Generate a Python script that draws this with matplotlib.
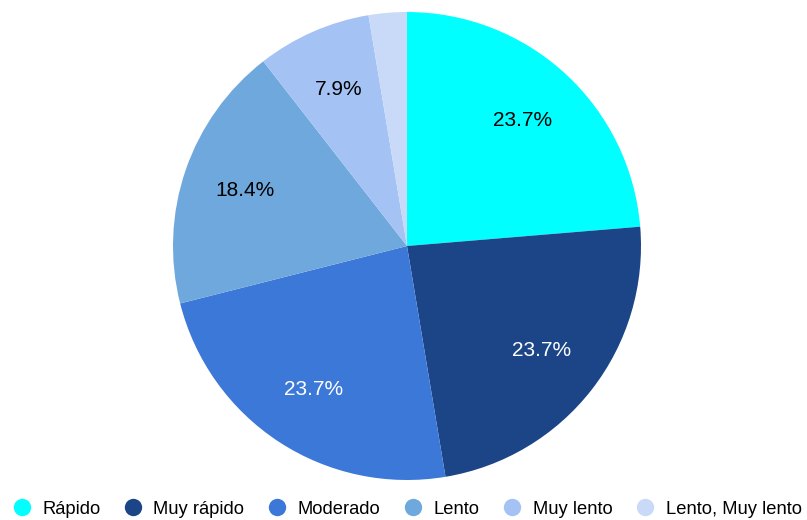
import matplotlib
matplotlib.use("Agg")
import matplotlib.pyplot as plt
from matplotlib.lines import Line2D

categories = ["Rápido", "Muy rápido", "Moderado", "Lento", "Muy lento", "Lento, Muy lento"]
values = [9, 9, 9, 7, 3, 1]
colors = ["#00ffff", "#1c4587", "#3c78d8", "#6fa8dc", "#a4c2f4", "#c9daf8"]
text_colors = ["black", "white", "white", "black", "black", "black"]

plt.rcParams['font.family'] = ['Liberation Sans', 'DejaVu Sans']

W, H = 807, 520
fig = plt.figure(figsize=(W / 100, H / 100), dpi=100)
cx, cy, r = 407, 246, 234
ax = fig.add_axes([(cx - r) / W, (H - cy - r) / H, 2 * r / W, 2 * r / H])

def fmt(p):
    return f"{p:.1f}%" if p >= 5 else ""

wedges, texts, autotexts = ax.pie(values, colors=colors, startangle=90, counterclock=False,
                                   autopct=fmt, pctdistance=0.73, radius=1,
                                   wedgeprops=dict(linewidth=0),
                                   textprops=dict(fontsize=15))
for t, c in zip(autotexts, text_colors):
    t.set_color(c)
ax.set_xlim(-1, 1)
ax.set_ylim(-1, 1)
ax.set_aspect('equal')
ax.axis('off')

handles = [Line2D([0], [0], marker='o', linestyle='', markersize=12.5,
                  markerfacecolor=c, markeredgewidth=0) for c in colors]
fig.legend(handles, categories, loc='center', bbox_to_anchor=(407 / W, 1 - 509 / H),
           ncol=6, frameon=False, fontsize=13.2, handletextpad=0.62,
           columnspacing=1.28, handlelength=1.0, borderpad=0, borderaxespad=0)

fig.savefig("out.png", dpi=100)
